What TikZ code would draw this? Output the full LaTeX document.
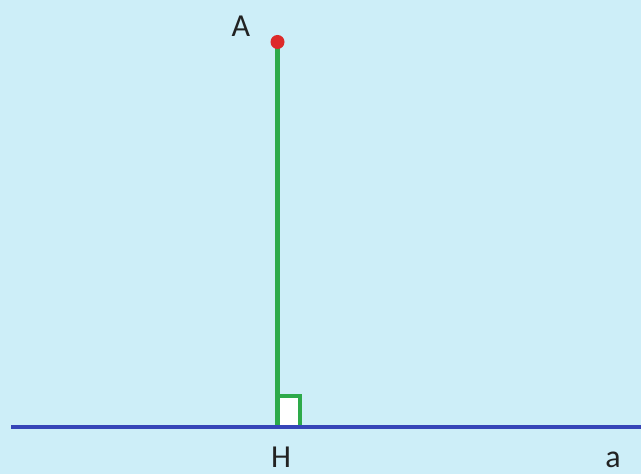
\documentclass[tikz,border=0pt]{standalone}
\usepackage{fontspec}
\setmainfont{Carlito}
\definecolor{bg}{HTML}{CDEEF8}
\definecolor{lineblue}{HTML}{3645B8}
\definecolor{seggreen}{HTML}{2DAA4A}
\definecolor{dotred}{HTML}{DD2A2A}
\definecolor{txt}{HTML}{222222}
\tikzset{
  lbl/.style={font=\fontsize{32}{35}\selectfont, text=txt, inner sep=0pt},
}
\begin{document}
\begin{tikzpicture}[x=1pt,y=1pt]
\fill[bg] (0,0) rectangle (641,474);
\useasboundingbox (0,0) rectangle (641,474);
\coordinate (L) at (11,47);
\coordinate (R) at (641,47);
\coordinate (H) at (277.5,47);
\coordinate (A) at (277.5,432);
\coordinate (C1) at (277.5,78);
\coordinate (C2) at (300,78);
\coordinate (C3) at (300,47);
\fill[white] (H) rectangle (C2);
\draw[seggreen, line width=4] (C1) -- (C2) -- (C3);
\draw[seggreen, line width=4.5] (H) -- (A);
\draw[lineblue, line width=4] (L) -- (R);
\fill[dotred] (A) circle (7);
\node[lbl] (lA) at (241,448) {A};
\node[lbl, anchor=base] (lH) at (281,6) {H};
\node[lbl, anchor=base] (la) at (613,6) {a};
\end{tikzpicture}
\end{document}
